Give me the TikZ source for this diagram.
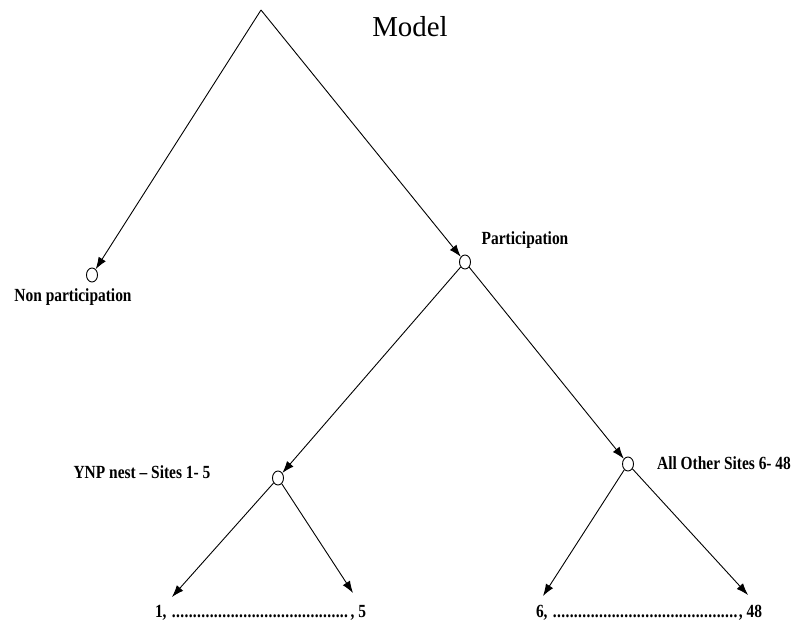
\documentclass[tikz,border=0pt]{standalone}
\usepackage{fontspec}
\usepackage{graphicx}
\setmainfont{Liberation Serif}
\usetikzlibrary{shapes.geometric,arrows.meta}
\tikzset{
  choice/.style={draw, ellipse, minimum width=11bp, minimum height=14bp, inner sep=0pt, line width=0.9bp},
  lbl/.style={font=\bfseries\fontsize{15.5}{18}\selectfont, inner sep=0pt},
  branch/.style={line width=0.9bp, -{Latex[length=12bp,width=8.5bp]}}
}
\newcommand{\tall}[1]{\scalebox{1}[1.2]{#1}}
\newcommand{\siterow}[3]{\hbox to #1{#2, \leaders\hbox to 4.2bp{\hss.\hss}\hfill, #3}}
\begin{document}
\begin{tikzpicture}[x=1bp,y=-1bp]
\useasboundingbox (0,0) rectangle (794,624);
\coordinate (root) at (261,10);
\node (title) at (410,27) {\fontsize{29}{34}\selectfont Model};
% first level
\node[choice] (nonp) at (92,275) {};
\node[lbl] (nonplbl) at (73,297) {\tall{Non participation}};
\node[choice] (part) at (465,262) {};
\node[lbl] (partlbl) at (525,240) {\tall{Participation}};
\draw[branch] (root) -- (nonp);
\draw[branch] (root) -- (part);
% nests
\node[choice] (ynp) at (278,478) {};
\node[lbl] (ynplbl) at (142,472) {\tall{YNP nest -- Sites 1- 5}};
\node[choice] (other) at (628,464) {};
\node[lbl] (otherlbl) at (724,463) {\tall{All Other Sites 6- 48}};
\draw[branch] (part) -- (ynp);
\draw[branch] (part) -- (other);
% sites
\coordinate (s1) at (172,597);
\coordinate (s5) at (353,593);
\coordinate (s6) at (543,596);
\coordinate (s48) at (748,595);
\draw[branch] (ynp) -- (s1);
\draw[branch] (ynp) -- (s5);
\draw[branch] (other) -- (s6);
\draw[branch] (other) -- (s48);
\node[lbl] (ynprow) at (260.5,613) {\tall{\siterow{211bp}{1}{5}}};
\node[lbl] (otherrow) at (649,613) {\tall{\siterow{226bp}{6}{48}}};
\end{tikzpicture}
\end{document}
